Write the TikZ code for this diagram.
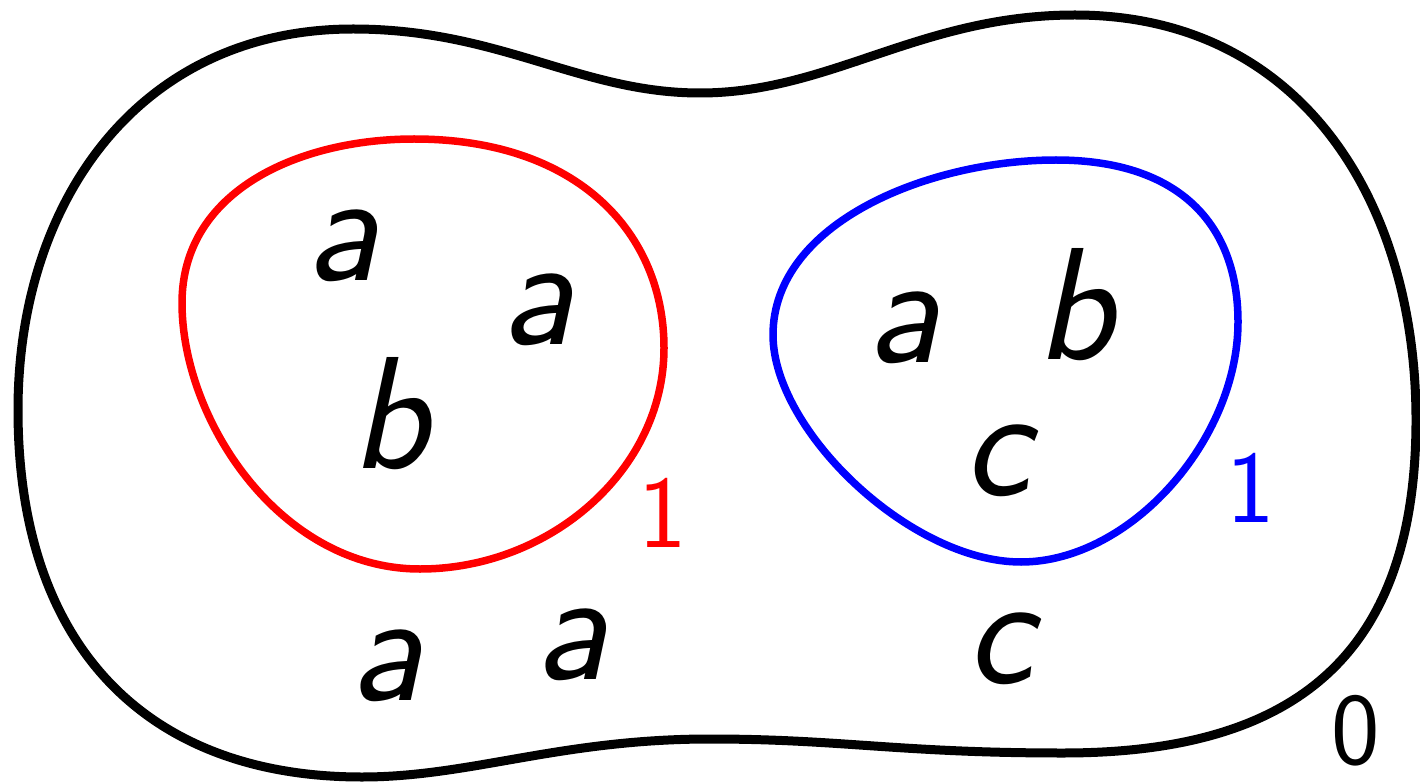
\documentclass[tikz,border=0pt]{standalone}
\usepackage{fontspec}
\begin{document}
\begin{tikzpicture}[x=1pt,y=-1pt,
  lt/.style={font=\fontsize{160}{162}\sffamily\itshape, inner sep=0pt, anchor=base},
  num/.style={font=\fontsize{103}{105}\sffamily, inner sep=0pt, anchor=base}]
\useasboundingbox (0,0) rectangle (1420,783);
% outer region
\draw[line width=9pt] (18,410)
  .. controls (18,200) and (140,29) .. (353,29)
  .. controls (500,29) and (580,93) .. (700,93)
  .. controls (830,93) and (920,15) .. (1075,15)
  .. controls (1300,15) and (1416,200) .. (1416,420)
  .. controls (1416,660) and (1290,753) .. (1063,753)
  .. controls (900,753) and (840,739) .. (710,739)
  .. controls (560,739) and (470,777) .. (362,777)
  .. controls (150,777) and (18,650) .. cycle;
% red loop
\draw[red, line width=7.5pt] (414,139)
  .. controls (580,139) and (664,235) .. (664,348)
  .. controls (664,470) and (550,569) .. (420,569)
  .. controls (280,569) and (182,420) .. (182,303)
  .. controls (182,190) and (300,139) .. cycle;
% blue loop
\draw[blue, line width=7.5pt] (1056,160)
  .. controls (1180,160) and (1238,225) .. (1238,322)
  .. controls (1238,440) and (1130,562) .. (1021,562)
  .. controls (910,562) and (773,430) .. (773,335)
  .. controls (773,222) and (930,160) .. cycle;
\node[lt] (a1) at (342,281) {a};
\node[lt] (a2) at (537,344) {a};
\node[lt] (b1) at (390,468) {b};
\node[lt] (a3) at (386,700) {a};
\node[lt] (a4) at (571,679) {a};
\node[lt] (a5) at (903,362) {a};
\node[lt] (b2) at (1075,359) {b};
\node[lt] (c1) at (997,495) {c};
\node[lt] (c2) at (1000,683) {c};
\node[num, red] (n1) at (663,547) {1};
\node[num, blue] (n2) at (1251,522) {1};
\node[num] (n0) at (1356,764) {0};
\end{tikzpicture}
\end{document}
